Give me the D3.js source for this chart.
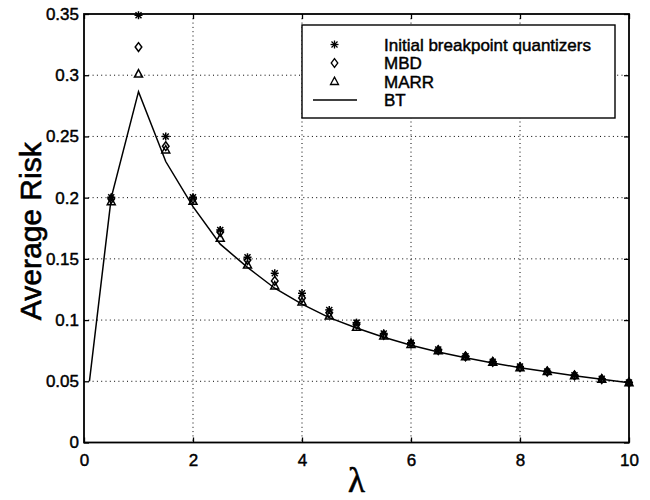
<!DOCTYPE html>
<html>
<head>
<meta charset="utf-8">
<script src="https://cdn.jsdelivr.net/npm/d3@7"></script>
<style>
  html, body { margin: 0; padding: 0; background: #fff; }
  svg { display: block; }
  text { font-family: "Liberation Sans", Arial, Helvetica, sans-serif; fill: #000; }
</style>
</head>
<body>
<svg id="chart" width="650" height="500"></svg>
<script>
// Sample points (lambda) at which the three quantizer designs were evaluated
const lambdaPts = [0.5, 1, 1.5, 2, 2.5, 3, 3.5, 4, 4.5, 5, 5.5, 6, 6.5, 7, 7.5, 8, 8.5, 9, 9.5, 10];
const initialRisk = [0.2003, 0.349, 0.250, 0.2003, 0.1736, 0.1513, 0.1382, 0.1219, 0.1083, 0.0979,
                     0.089, 0.0815, 0.076, 0.0705, 0.066, 0.062, 0.058, 0.055, 0.052, 0.049];
const mbdRisk = [0.199, 0.323, 0.242, 0.199, 0.172, 0.149, 0.132, 0.118, 0.106, 0.0965,
                 0.088, 0.081, 0.0755, 0.0703, 0.0658, 0.0615, 0.058, 0.0548, 0.0518, 0.049];
const marrRisk = [0.1967, 0.301, 0.239, 0.197, 0.1668, 0.145, 0.1279, 0.1148, 0.1033, 0.0941,
                  0.087, 0.080, 0.075, 0.070, 0.0655, 0.0611, 0.0579, 0.0546, 0.0516, 0.0489];

// BT reference curve
const btLambda = [0.1, 0.5, 1, 1.5, 2, 2.5, 3, 3.5, 4, 4.5, 5, 5.5, 6, 6.5, 7, 7.5, 8, 8.5, 9, 9.5, 10];
const btRisk = [0.05, 0.200, 0.2866, 0.2295, 0.1926, 0.162, 0.143, 0.126, 0.113, 0.102, 0.0935,
                0.086, 0.0795, 0.074, 0.0692, 0.065, 0.0611, 0.0577, 0.0546, 0.0517, 0.0489];

// Axis ticks
const xTicks = [0, 2, 4, 6, 8, 10];
const yTicks = [0, 0.05, 0.1, 0.15, 0.2, 0.25, 0.3, 0.35];
const yTickLabels = ["0", "0.05", "0.1", "0.15", "0.2", "0.25", "0.3", "0.35"];

const legendLabels = ["Initial breakpoint quantizers", "MBD", "MARR", "BT"];

const svg = d3.select("#chart");
const plot = { left: 84, right: 629, top: 14, bottom: 442.5 };

const x = d3.scaleLinear().domain([0, 10]).range([plot.left, plot.right]);
const y = d3.scaleLinear().domain([0, 0.35]).range([plot.bottom, plot.top]);

svg.append("rect").attr("width", 650).attr("height", 500).attr("fill", "#fff");

// Dotted grid
const grid = svg.append("g").attr("stroke", "#000").attr("stroke-width", 1)
  .attr("stroke-dasharray", "1,3.3");
grid.selectAll("line.v").data(xTicks.slice(1, -1)).join("line")
  .attr("x1", d => x(d)).attr("x2", d => x(d))
  .attr("y1", plot.top).attr("y2", plot.bottom);
grid.selectAll("line.h").data(yTicks.slice(1, -1)).join("line")
  .attr("x1", plot.left).attr("x2", plot.right)
  .attr("y1", d => y(d)).attr("y2", d => y(d));

// Axes with inward ticks on all four sides
const tickLen = 5;
const axisBottom = svg.append("g").attr("transform", `translate(0,${plot.bottom})`)
  .call(d3.axisBottom(x).tickValues(xTicks).tickSizeInner(-tickLen).tickSizeOuter(0).tickPadding(11));
const axisTop = svg.append("g").attr("transform", `translate(0,${plot.top})`)
  .call(d3.axisTop(x).tickValues(xTicks).tickSizeInner(-tickLen).tickSizeOuter(0).tickFormat(""));
const axisLeft = svg.append("g").attr("transform", `translate(${plot.left},0)`)
  .call(d3.axisLeft(y).tickValues(yTicks).tickSizeInner(-tickLen).tickSizeOuter(0).tickPadding(5)
    .tickFormat((d, i) => yTickLabels[i]));
const axisRight = svg.append("g").attr("transform", `translate(${plot.right},0)`)
  .call(d3.axisRight(y).tickValues(yTicks).tickSizeInner(-tickLen).tickSizeOuter(0).tickFormat(""));

[axisBottom, axisTop, axisLeft, axisRight].forEach(a => {
  a.select(".domain").remove();
  a.selectAll(".tick line").attr("stroke", "#000").attr("stroke-width", 1.3);
  a.selectAll(".tick text").attr("font-size", 17).attr("fill", "#000")
    .attr("stroke", "#000").attr("stroke-width", 0.45)
    .attr("font-family", "'Liberation Sans', Arial, sans-serif");
});

// BT curve
const line = d3.line().x(d => x(d[0])).y(d => y(d[1]));
svg.append("path")
  .datum(btLambda.map((l, i) => [l, btRisk[i]]))
  .attr("d", line)
  .attr("fill", "none").attr("stroke", "#000").attr("stroke-width", 1.5);

// Marker shapes
function drawStar(g) {
  const r = 4, d = 3;
  g.append("line").attr("x1", -r).attr("x2", r).attr("y1", 0).attr("y2", 0);
  g.append("line").attr("x1", 0).attr("x2", 0).attr("y1", -r).attr("y2", r);
  g.append("line").attr("x1", -d).attr("x2", d).attr("y1", -d).attr("y2", d);
  g.append("line").attr("x1", -d).attr("x2", d).attr("y1", d).attr("y2", -d);
}
function drawDiamond(g) {
  g.append("path").attr("d", "M0,-4.4L3.3,0L0,4.4L-3.3,0Z").attr("fill", "none");
}
function drawTriangle(g) {
  g.append("path").attr("d", "M0,-4.4L4,3L-4,3Z").attr("fill", "none");
}

function series(values, drawer) {
  svg.append("g").attr("stroke", "#000").attr("stroke-width", 1.5)
    .selectAll("g").data(lambdaPts.map((l, i) => [l, values[i]])).join("g")
    .attr("transform", d => `translate(${x(d[0])},${y(d[1])})`)
    .each(function () { drawer(d3.select(this)); });
}
series(marrRisk, drawTriangle);
series(mbdRisk, drawDiamond);
series(initialRisk, drawStar);

// Frame
svg.append("rect")
  .attr("x", plot.left).attr("y", plot.top)
  .attr("width", plot.right - plot.left).attr("height", plot.bottom - plot.top)
  .attr("fill", "none").attr("stroke", "#000").attr("stroke-width", 1.8);

// Legend
const legend = svg.append("g");
legend.append("rect").attr("x", 302).attr("y", 25).attr("width", 313).attr("height", 93)
  .attr("fill", "#fff").attr("stroke", "#000").attr("stroke-width", 1.4);
const rowY = [44.5, 63, 81.5, 100];
const drawers = [drawStar, drawDiamond, drawTriangle];
legendLabels.forEach((lab, i) => {
  if (i < 3) {
    const g = legend.append("g").attr("transform", `translate(334.5,${rowY[i]})`)
      .attr("stroke", "#000").attr("stroke-width", 1.3);
    drawers[i](g);
  } else {
    legend.append("line").attr("x1", 313).attr("x2", 357)
      .attr("y1", rowY[i]).attr("y2", rowY[i]).attr("stroke", "#000").attr("stroke-width", 1.5);
  }
  legend.append("text").attr("x", 384).attr("y", rowY[i]).attr("dy", "0.36em")
    .attr("font-size", 17).attr("stroke", "#000").attr("stroke-width", 0.45).text(lab);
});

// Axis titles
svg.append("text").attr("transform", `translate(41,${(plot.top + plot.bottom) / 2 + 3}) rotate(-90)`)
  .attr("text-anchor", "middle").attr("font-size", 30)
  .attr("stroke", "#000").attr("stroke-width", 0.6).text("Average Risk");
svg.append("text").attr("x", (plot.left + plot.right) / 2).attr("y", 492)
  .attr("text-anchor", "middle").attr("font-size", 35)
  .attr("stroke", "#000").attr("stroke-width", 0.6)
  .style("font-family", "'Liberation Serif', 'Times New Roman', serif").text("λ");
</script>
</body>
</html>
